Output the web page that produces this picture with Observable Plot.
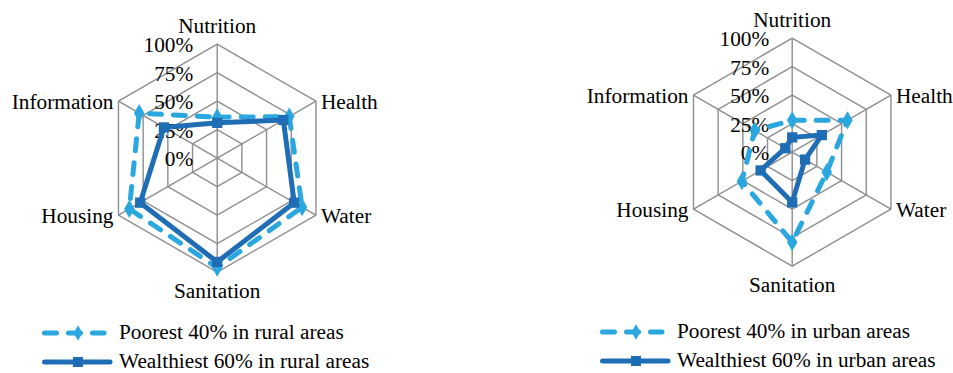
<!DOCTYPE html>
<html>
<head>
<meta charset="utf-8">
<script src="https://cdn.jsdelivr.net/npm/d3@7"></script>
<script src="https://cdn.jsdelivr.net/npm/@observablehq/plot@0.6"></script>
<style>
  body { margin: 0; background: #fff; font-family: "Liberation Serif", Tinos, "Times New Roman", "DejaVu Serif", serif; }
  #wrap { display: flex; width: 953px; height: 373px; overflow: hidden; }
  .panel { position: relative; height: 373px; }
  .legend { position: absolute; font-size: 21.3px; color: #000; }
  .row { position: absolute; left: 0; height: 20px; display: flex; align-items: center; white-space: nowrap; line-height: 1; }
  .row svg { flex: none; }
  .row span { line-height: 1; }
  svg text { font-family: "Liberation Serif", Tinos, "Times New Roman", "DejaVu Serif", serif; }
</style>
</head>
<body>
<div id="wrap"></div>
<script>
// Deprivation dimensions, clockwise from the top
const dimensions = ["Nutrition", "Health", "Water", "Sanitation", "Housing", "Information"];
const tickLevels = [0, 25, 50, 75, 100];
const tickLabels = ["0%", "25%", "50%", "75%", "100%"];

// Share of children (%) per dimension
const ruralPoorest    = [36, 73, 86, 96, 89, 79];
const ruralWealthiest = [31, 67, 78, 91, 78, 54];
const urbanPoorest    = [28, 56, 35, 79, 51, 38];
const urbanWealthiest = [13, 30, 13, 44, 32, 7];

const seriesNames = {
  rural: ["Poorest 40% in rural areas", "Wealthiest 60% in rural areas"],
  urban: ["Poorest 40% in urban areas", "Wealthiest 60% in urban areas"]
};

const LIGHT = "#2ba7df";
const DARK = "#1f6db5";
const GRID = "#8e8e8e";
const SERIF = "'Liberation Serif', Tinos, 'Times New Roman', 'DejaVu Serif', serif";
const FONT_SIZE = 21.3;

const angle = i => i * Math.PI / 3;
const px = (i, v) => (v / 100) * Math.sin(angle(i));
const py = (i, v) => (v / 100) * Math.cos(angle(i));

function radar({width, height, cx, cy, R, poorest, wealthiest, tickDx}) {
  const rings = [];
  for (const lvl of tickLevels.filter(l => l > 0)) {
    dimensions.forEach((d, i) => rings.push({level: lvl, x: px(i, lvl), y: py(i, lvl)}));
  }
  const spokes = dimensions.map((d, i) => ({name: d, x: px(i, 100), y: py(i, 100)}));
  const series = (vals) => vals.map((v, i) => ({dim: dimensions[i], x: px(i, v), y: py(i, v)}));
  const pts1 = series(poorest);
  const pts2 = series(wealthiest);
  const ticks = tickLevels.map((l, k) => ({x: 0, y: l / 100, label: tickLabels[k]}));
  const top = spokes.filter(s => s.name === "Nutrition");
  const bottom = spokes.filter(s => s.name === "Sanitation");
  const right = spokes.filter(s => s.name === "Health" || s.name === "Water");
  const left = spokes.filter(s => s.name === "Housing" || s.name === "Information");
  const font = {fontSize: FONT_SIZE, fill: "#000", fontFamily: SERIF};

  return Plot.plot({
    width, height, margin: 0,
    style: {fontFamily: SERIF, background: "transparent", overflow: "visible"},
    x: {domain: [-cx / R, (width - cx) / R], axis: null},
    y: {domain: [-(height - cy) / R, cy / R], axis: null},
    marks: [
      Plot.line(rings, {x: "x", y: "y", z: "level", curve: "linear-closed", stroke: GRID, strokeWidth: 1.4}),
      Plot.link(spokes, {x1: 0, y1: 0, x2: "x", y2: "y", stroke: GRID, strokeWidth: 1.4}),
      Plot.text(ticks, {x: "x", y: "y", text: "label", textAnchor: "end", dx: tickDx, dy: 1, ...font}),
      Plot.line(pts1, {x: "x", y: "y", curve: "linear-closed", stroke: LIGHT, strokeWidth: 5, strokeDasharray: "12,12", strokeLinecap: "round", strokeLinejoin: "round"}),
      Plot.dot(pts1, {x: "x", y: "y", symbol: "diamond", r: 5.5, fill: LIGHT}),
      Plot.line(pts2, {x: "x", y: "y", curve: "linear-closed", stroke: DARK, strokeWidth: 5, strokeLinejoin: "round"}),
      Plot.dot(pts2, {x: "x", y: "y", symbol: "square", r: 5.8, fill: DARK}),
      Plot.text(top, {x: "x", y: "y", text: "name", dy: -18, ...font}),
      Plot.text(bottom, {x: "x", y: "y", text: "name", dy: 19, ...font}),
      Plot.text(right, {x: "x", y: "y", text: "name", textAnchor: "start", dx: 5, dy: 1, ...font}),
      Plot.text(left, {x: "x", y: "y", text: "name", textAnchor: "end", dx: -5, dy: 1, ...font})
    ]
  });
}

function legendSample(kind) {
  const w = 76, h = 20, mid = 36;
  const ns = "http://www.w3.org/2000/svg";
  const svg = document.createElementNS(ns, "svg");
  svg.setAttribute("width", w);
  svg.setAttribute("height", h);
  const line = document.createElementNS(ns, "line");
  line.setAttribute("y1", h / 2);
  line.setAttribute("y2", h / 2);
  line.setAttribute("stroke-width", 5);
  line.setAttribute("stroke-linecap", "round");
  const mark = document.createElementNS(ns, "path");
  if (kind === "poorest") {
    line.setAttribute("x1", 2.5);
    line.setAttribute("x2", 62);
    line.setAttribute("stroke", LIGHT);
    line.setAttribute("stroke-dasharray", "12,12");
    mark.setAttribute("d", d3.symbol(d3.symbolDiamond, 70)());
    mark.setAttribute("fill", LIGHT);
  } else {
    line.setAttribute("x1", 2.5);
    line.setAttribute("x2", 68);
    line.setAttribute("stroke", DARK);
    mark.setAttribute("d", d3.symbol(d3.symbolSquare, 100)());
    mark.setAttribute("fill", DARK);
  }
  mark.setAttribute("transform", `translate(${mid},${h / 2})`);
  svg.appendChild(line);
  svg.appendChild(mark);
  return svg;
}

function panel({width, cx, cy, poorest, wealthiest, tickDx, names, legendLeft, rowTops}) {
  const div = document.createElement("div");
  div.className = "panel";
  div.style.width = width + "px";
  div.appendChild(radar({width, height: 310, cx, cy, R: 114, poorest, wealthiest, tickDx}));
  const leg = document.createElement("div");
  leg.className = "legend";
  leg.style.left = legendLeft + "px";
  leg.style.top = "0px";
  ["poorest", "wealthiest"].forEach((k, i) => {
    const row = document.createElement("div");
    row.className = "row";
    row.style.top = rowTops[i] + "px";
    row.appendChild(legendSample(k));
    const span = document.createElement("span");
    span.textContent = names[i];
    span.style.marginLeft = "1px";
    row.appendChild(span);
    leg.appendChild(row);
  });
  div.appendChild(leg);
  return div;
}

const wrap = document.getElementById("wrap");
wrap.appendChild(panel({
  width: 476, cx: 216.7, cy: 157.7, poorest: ruralPoorest, wealthiest: ruralWealthiest,
  tickDx: -24, names: seriesNames.rural, legendLeft: 42, rowTops: [323, 352]
}));
wrap.appendChild(panel({
  width: 477, cx: 315.7, cy: 151.7, poorest: urbanPoorest, wealthiest: urbanWealthiest,
  tickDx: -23, names: seriesNames.urban, legendLeft: 124, rowTops: [321.5, 351]
}));
</script>
</body>
</html>
